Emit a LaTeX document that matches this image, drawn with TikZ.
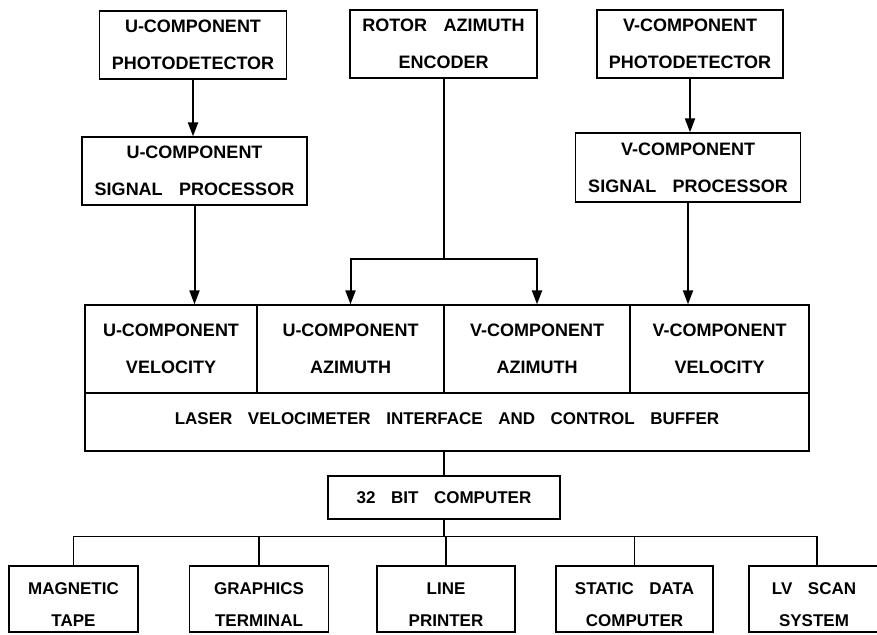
\documentclass[tikz,border=0pt]{standalone}
\usepackage{fontspec}
\newfontfamily\plotfont[WordSpace={3.3}]{Liberation Sans}
\usetikzlibrary{arrows.meta}
\begin{document}
\begin{tikzpicture}[x=1pt,y=-1pt,
  box/.style={draw,line width=1.3pt,inner sep=0pt,align=center,
    font=\plotfont\bfseries\fontsize{18}{37}\selectfont},
  btxt/.style={inner sep=0pt,align=center,
    font=\plotfont\bfseries\fontsize{17}{32}\selectfont},
  arr/.style={line width=2pt,-{Triangle[length=14pt,width=10pt]}},
  thickline/.style={line width=2pt},
  wire/.style={line width=1.4pt}]
\clip (0,0) rectangle (877,634);
\fill[white] (0,0) rectangle (877,634);
% top row
\node[box,minimum width=187pt,minimum height=68pt] (upd) at (193,45) {U-COMPONENT\\PHOTODETECTOR};
\node[box,minimum width=187pt,minimum height=68pt] (enc) at (443.5,44) {ROTOR AZIMUTH\\ENCODER};
\node[box,minimum width=186pt,minimum height=68pt] (vpd) at (690,44) {V-COMPONENT\\PHOTODETECTOR};
% signal processors
\node[box,minimum width=225pt,minimum height=68pt] (usp) at (194.5,171) {U-COMPONENT\\SIGNAL PROCESSOR};
\node[box,minimum width=225pt,minimum height=69pt] (vsp) at (688,167.5) {V-COMPONENT\\SIGNAL PROCESSOR};
% interface block
\node[box,minimum width=172pt,minimum height=88pt] (uvel) at (171,349) {U-COMPONENT\\VELOCITY};
\node[box,minimum width=187pt,minimum height=88pt] (uaz) at (350.5,349) {U-COMPONENT\\AZIMUTH};
\node[box,minimum width=186pt,minimum height=88pt] (vaz) at (537,349) {V-COMPONENT\\AZIMUTH};
\node[box,minimum width=179pt,minimum height=88pt] (vvel) at (719.5,349) {V-COMPONENT\\VELOCITY};
\node[box,minimum width=724pt,minimum height=58pt,font=\plotfont\bfseries\fontsize{17}{32}\selectfont] (buf) at (447,422) {\raisebox{7pt}{LASER VELOCIMETER INTERFACE AND CONTROL BUFFER}};
% computer
\node[box,minimum width=232pt,minimum height=43pt,font=\plotfont\bfseries\fontsize{17}{32}\selectfont] (comp) at (444,497.5) {32 BIT COMPUTER};
% peripherals
\node[box,minimum width=129pt,minimum height=66pt] (mt) at (73.5,599) {};
\node[box,minimum width=139pt,minimum height=66pt] (gt) at (259,599) {};
\node[box,minimum width=138pt,minimum height=66pt] (lp) at (446,599) {};
\node[box,minimum width=157pt,minimum height=66pt] (sdc) at (634.5,599) {};
\node[box,minimum width=136pt,minimum height=66pt] (lvs) at (817,599) {};
\node[btxt] at ([yshift=-6pt]mt.center) {MAGNETIC\\TAPE};
\node[btxt] at ([yshift=-6pt]gt.center) {GRAPHICS\\TERMINAL};
\node[btxt] at ([yshift=-6pt]lp.center) {LINE\\PRINTER};
\node[btxt] at ([yshift=-6pt]sdc.center) {STATIC DATA\\COMPUTER};
\node[btxt] at ([xshift=-3pt,yshift=-6pt]lvs.center) {LV SCAN\\SYSTEM};
% connectors
\draw[arr] (upd.south) -- (upd.south |- usp.north);
\draw[arr] (vpd.south) -- (vpd.south |- vsp.north);
\draw[arr] (usp.south) -- (usp.south |- uvel.north);
\draw[arr] (vsp.south) -- (vsp.south |- vvel.north);
\path (enc.south) ++(0,180) coordinate (ej);
\draw[thickline] (enc.south) -- (ej);
\draw[arr] (ej) -| (uaz.north);
\draw[arr] (ej) -| (vaz.north);
\draw[wire] (comp.north |- buf.south) -- (comp.north);
\path (comp.south) ++(0,17) coordinate (bus);
\draw[wire] (comp.south) -- (bus);
\draw[wire] (mt.north) |- (bus) -| (lvs.north);
\foreach \n in {gt,lp,sdc} \draw[wire] (\n.north) -- (\n.north |- bus);
\end{tikzpicture}
\end{document}
